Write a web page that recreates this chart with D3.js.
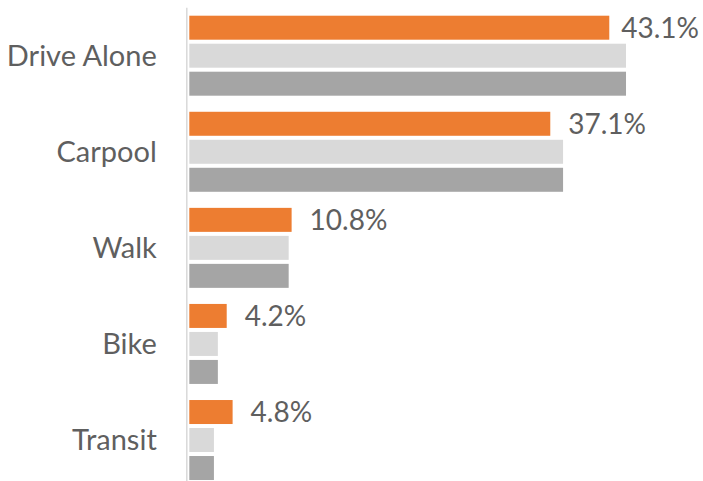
<!DOCTYPE html>
<html>
<head>
<meta charset="utf-8">
<script src="https://cdn.jsdelivr.net/npm/d3@7"></script>
<style>
  html, body { margin: 0; padding: 0; background: #fff; }
  svg { display: block; }
</style>
</head>
<body>
<svg id="chart" width="703" height="481"></svg>
<script>
// Commute mode share, three series per mode
const categories = ["Drive Alone", "Carpool", "Walk", "Bike", "Transit"];
const seriesNames = ["Current", "Comparison A", "Comparison B"];
const currentShare = [43.1, 37.1, 10.8, 4.2, 4.8];
const comparisonA = [44.8, 38.4, 10.5, 3.3, 2.9];
const comparisonB = [44.8, 38.4, 10.5, 3.3, 2.9];
const seriesColors = ["#ED7D31", "#D9D9D9", "#A5A5A5"];

const W = 703, H = 481;
const zeroX = 185.4, pxPerPoint = 9.835;
const labelFont = "Lato, 'Open Sans', sans-serif";

const svg = d3.select("#chart");

const x = d3.scaleLinear()
  .domain([0, 45])
  .range([zeroX, zeroX + 45 * pxPerPoint]);

const y = d3.scaleBand()
  .domain(categories)
  .range([7.66, 488.06])
  .paddingInner(0.1674)
  .paddingOuter(0.0837);

const ySub = d3.scaleBand()
  .domain(seriesNames)
  .range([0, y.bandwidth()])
  .paddingInner(0.143)
  .paddingOuter(0);

const rows = categories.map((c, i) => ({
  category: c,
  values: [currentShare[i], comparisonA[i], comparisonB[i]]
}));

// bars are clipped just right of the category axis line
svg.append("defs").append("clipPath").attr("id", "plotClip")
  .append("rect")
  .attr("x", x(0) + 3.9).attr("y", 0)
  .attr("width", W).attr("height", H);

const groups = svg.append("g").attr("clip-path", "url(#plotClip)")
  .selectAll("g.cat")
  .data(rows)
  .join("g")
  .attr("class", "cat")
  .attr("transform", d => `translate(0,${y(d.category)})`);

groups.selectAll("rect")
  .data(d => d.values.map((v, j) => ({ v, s: seriesNames[j], color: seriesColors[j] })))
  .join("rect")
  .attr("x", x(0))
  .attr("y", d => ySub(d.s))
  .attr("width", d => x(d.v) - x(0))
  .attr("height", ySub.bandwidth())
  .attr("fill", d => d.color);

// category axis
const axis = d3.axisLeft(y).tickSize(0).tickPadding(30);
const axisG = svg.append("g")
  .attr("transform", `translate(${x(0) + 1.4},0)`)
  .call(axis);
axisG.select(".domain")
  .attr("d", `M0,${y.range()[0]}V${H}`)
  .attr("stroke", "#D9D9D9")
  .attr("stroke-width", 1.5);
axisG.selectAll(".tick text")
  .attr("font-family", labelFont)
  .attr("font-size", 29)
  .attr("fill", "#5f5f5f")
  .attr("dy", "0.34em");

// value labels next to the orange bars, kept inside the chart
svg.append("g").selectAll("text")
  .data(rows)
  .join("text")
  .attr("font-family", labelFont)
  .attr("font-size", 28)
  .attr("fill", "#5f5f5f")
  .attr("dy", "0.36em")
  .attr("y", d => y(d.category) + ySub(seriesNames[0]) + ySub.bandwidth() / 2)
  .text(d => d.values[0].toFixed(1) + "%")
  .each(function(d) {
    const w = this.getComputedTextLength();
    const xPos = Math.min(x(d.values[0]) + 18, W - 4 - w);
    d3.select(this).attr("x", xPos);
  });
</script>
</body>
</html>
